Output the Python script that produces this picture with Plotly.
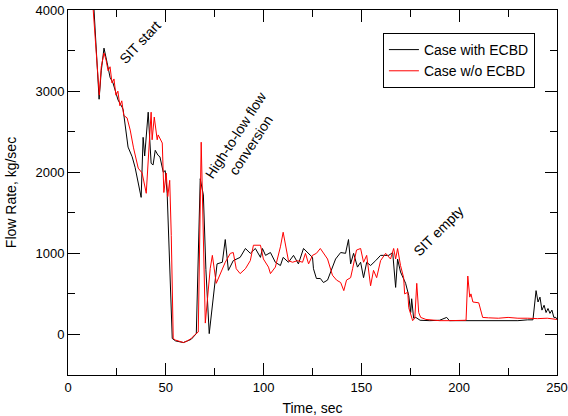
import plotly.graph_objects as go

# ---- data ----
t_with = [12, 15.9, 17, 18.4, 20, 21.5, 23, 24, 25.6, 27.7,
          28.2, 30.7, 32.8, 34.3, 35.9, 37.4, 38.4, 39.2, 41, 42.5,
          43.5, 44.6, 46, 47, 48.7, 49.7, 50.7, 52, 53.3, 55,
          57, 59, 61, 63, 65.6, 67.6, 69.2, 70.5, 72.2, 74.3,
          76.2, 78.9, 80.4, 82, 84.5, 88, 90.7, 93.2, 95.8, 98.4,
          99.4, 101, 103.5, 106, 108.6, 110, 112.7, 115.3, 117.8, 120.4,
          123, 125, 125.5, 127, 129, 130.6, 132.7, 134.2, 136.8, 139.4,
          141.9, 143.4, 144.5, 146, 148, 149.6, 151.1, 152.7, 154.7, 157.3,
          159.8, 161.4, 164, 166, 167.5, 168.5, 170, 172.6, 174.2, 175.2,
          175.7, 176.7, 177.8, 180, 185, 190, 193.6, 195, 200, 205,
          210, 215, 220, 225, 230, 235, 237.7, 239.3, 240.3, 241.3,
          242.3, 243.4, 244.4, 245.4, 246.4, 247.4, 248.4, 249.4, 250]
q_with = [4550, 2900, 3250, 3530, 3350, 3170, 3100, 3010, 2890, 2800,
          2770, 2310, 2190, 2060, 1880, 1690, 2430, 2200, 2740, 2110,
          2090, 2270, 2210, 2190, 2000, 2020, 1740, 700, -50, -80,
          -90, -100, -80, -60, 10, 1920, 1720, 800, 10, 500,
          870, 890, 1170, 790, 910, 950, 1060, 1000, 1060, 950,
          1060, 975, 1010, 890, 850, 950, 890, 975, 870, 1060,
          1000, 950, 810, 690, 690, 640, 670, 770, 930, 1010,
          1000, 1170, 870, 1000, 830, 890, 700, 890, 850, 910,
          975, 975, 975, 1010, 580, 930, 770, 630, 480, 270,
          440, 200, 210, 175, 170, 175, 210, 170, 170, 170,
          175, 170, 170, 175, 170, 180, 180, 540, 400, 460,
          300, 360, 270, 320, 260, 300, 210, 210, 190]

t_without = [12, 16, 17, 18.4, 19.5, 20.5, 21.5, 22.5, 23.5, 24.5,
             25.5, 26.5, 27.5, 28.5, 30.2, 31.8, 33.5, 35.9, 37.9, 40,
             42.5, 43, 44.1, 45.6, 46.1, 48.2, 49, 50.2, 51, 52,
             52.8, 53.8, 55, 57, 59, 61, 63, 65, 66.6, 68.1,
             70.2, 72.7, 73.8, 75.8, 77.9, 80.4, 83, 84.5, 86, 88,
             90.7, 93.2, 94.8, 98.4, 99.9, 102.5, 103.5, 106, 108.6, 110,
             112.7, 114.8, 117.3, 119.9, 121.4, 123, 125, 127, 129, 130.6,
             132.7, 135.2, 137.3, 139.4, 141, 142.4, 144.5, 145.5, 147.5, 149.6,
             151.1, 152.7, 154.7, 156.2, 157.8, 159.8, 162.4, 164.9, 166.5, 167.5,
             168.5, 170, 171.6, 172.1, 173.7, 174.2, 175.2, 176.2, 177.3, 178.3,
             179.3, 180.3, 183, 190, 195, 200, 203.5, 204.4, 205.4, 206,
             207, 210, 212, 215, 220, 225, 230, 235, 240, 245,
             250]
q_without = [4300, 2950, 3300, 3470, 3380, 3250, 3300, 3100, 3150, 2950,
             3000, 2820, 2880, 2700, 2670, 2520, 2300, 2050, 1990, 1740,
             2740, 2400, 2680, 2400, 2460, 2360, 1750, 1990, 1700, 1900,
             1220, -50, -70, -90, -100, -80, -50, 0, 30, 2370,
             140, 810, 975, 630, 750, 890, 1000, 1010, 810, 750,
             810, 910, 1100, 1100, 930, 830, 750, 830, 1080, 1260,
             910, 890, 910, 890, 1000, 870, 975, 1000, 1060, 1000,
             930, 730, 670, 640, 540, 670, 700, 810, 1040, 1060,
             890, 975, 600, 790, 700, 910, 1000, 930, 1060, 930,
             1060, 850, 700, 500, 520, 330, 260, 170, 200, 630,
             270, 210, 185, 170, 170, 170, 175, 720, 460, 500,
             400, 390, 210, 205, 200, 210, 200, 200, 195, 200,
             185]

x_ticks = [0, 50, 100, 150, 200, 250]
y_ticks = [0, 1000, 2000, 3000, 4000]
series_names = ["Case with ECBD", "Case w/o ECBD"]

FONT = "Liberation Sans, Arial, sans-serif"

fig = go.Figure()
fig.add_trace(go.Scatter(x=t_with, y=q_with, mode="lines", name=series_names[0],
                         line=dict(color="#000000", width=1)))
fig.add_trace(go.Scatter(x=t_without, y=q_without, mode="lines", name=series_names[1],
                         line=dict(color="#ff0000", width=1)))

axis_common = dict(showline=True, linecolor="black", linewidth=1, mirror="ticks",
                   ticks="inside", ticklen=12, tickcolor="black", tickwidth=1,
                   showgrid=False, zeroline=False, automargin=False,
                   tickfont=dict(family=FONT, size=13, color="black"))

fig.update_xaxes(range=[0, 250], tickvals=x_ticks,
                 minor=dict(ticks="inside", ticklen=7, dtick=25, tick0=0, tickcolor="black", showgrid=False),
                 title=dict(text="Time, sec", font=dict(family=FONT, size=14, color="black")),
                 **axis_common)
fig.update_yaxes(range=[-500, 4000], tickvals=y_ticks,
                 minor=dict(ticks="inside", ticklen=7, dtick=500, tick0=0, tickcolor="black", showgrid=False),
                 title=dict(text="Flow Rate, kg/sec", font=dict(family=FONT, size=14, color="black")),
                 **axis_common)

ann_font = dict(family=FONT, size=14, color="black")
fig.add_annotation(x=37, y=3600, text="SIT start", textangle=-47, showarrow=False, font=ann_font)
fig.add_annotation(x=89.5, y=2400, text="High-to-low flow<br>conversion", textangle=-57,
                   showarrow=False, font=ann_font)
fig.add_annotation(x=189.5, y=1270, text="SIT empty", textangle=-45, showarrow=False, font=ann_font)

fig.update_layout(
    width=568, height=416,
    margin=dict(l=68, r=11, t=10, b=41, autoexpand=False),
    paper_bgcolor="white", plot_bgcolor="white",
    font=dict(family=FONT, size=13, color="black"),
    legend=dict(x=0.644, y=0.937, xanchor="left", yanchor="top",
                bordercolor="black", borderwidth=1, bgcolor="white",
                font=dict(family=FONT, size=14, color="black"),
                itemwidth=30, tracegroupgap=0),
    showlegend=True,
)

fig.write_html("out.html", config={"displayModeBar": False},
               post_script="document.body.style.margin='0';document.body.style.padding='0';")
